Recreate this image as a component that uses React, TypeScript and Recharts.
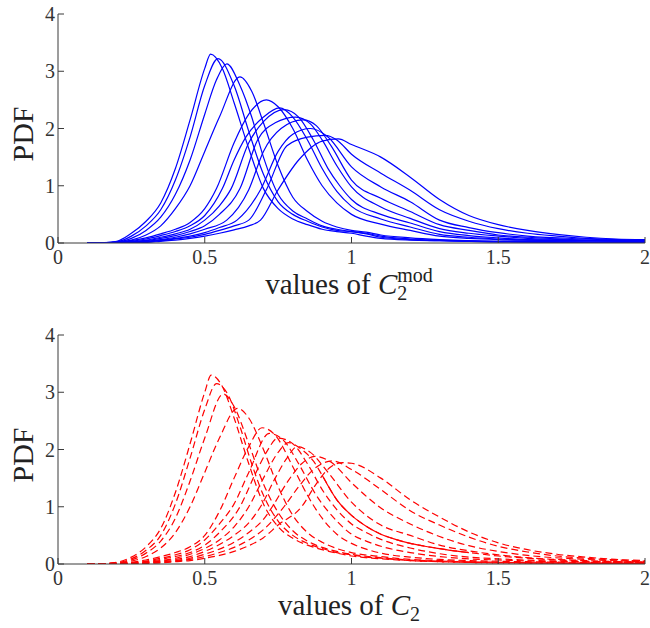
import React from 'react';
import { LineChart, Line, XAxis, YAxis } from 'recharts';

const FONT = '"Liberation Serif", "Times New Roman", serif';

const xTicks = [0, 0.5, 1, 1.5, 2];
const yTicks = [0, 1, 2, 3, 4];

type P = [number, number];

// ---------- top panel (C2^mod), blue solid ----------
const topA: P[] = [[0.1,0],[0.15,0.005],[0.2,0.03],[0.25,0.17],[0.3,0.38],[0.35,0.7],[0.4,1.3],[0.45,2.15],[0.5,3.05],[0.52,3.3],[0.56,3.05],[0.6,2.45],[0.65,1.65],[0.7,0.95],[0.75,0.6],[0.8,0.42],[0.85,0.32],[0.9,0.24],[0.95,0.2],[1.0,0.17],[1.05,0.12],[1.1,0.08],[1.2,0.05],[1.3,0.04],[1.5,0.02],[2.0,0.01]];
const topB: P[] = [[0.1,0],[0.15,0.004],[0.2,0.02],[0.25,0.12],[0.3,0.3],[0.35,0.58],[0.4,1.1],[0.45,1.85],[0.5,2.75],[0.545,3.22],[0.6,2.75],[0.65,1.95],[0.7,1.2],[0.75,0.72],[0.8,0.5],[0.85,0.38],[0.9,0.28],[0.95,0.22],[1.0,0.2],[1.05,0.16],[1.1,0.1],[1.2,0.06],[1.3,0.04],[1.5,0.02],[2.0,0.01]];
const topC: P[] = [[0.1,0],[0.2,0.015],[0.25,0.08],[0.3,0.22],[0.35,0.45],[0.4,0.85],[0.45,1.45],[0.5,2.25],[0.54,2.85],[0.575,3.13],[0.62,2.75],[0.66,2.2],[0.7,1.5],[0.75,0.85],[0.8,0.56],[0.85,0.42],[0.9,0.3],[0.95,0.24],[1.0,0.2],[1.05,0.17],[1.1,0.12],[1.2,0.07],[1.3,0.05],[1.5,0.03],[2.0,0.01]];
const topD: P[] = [[0.1,0],[0.2,0.01],[0.25,0.05],[0.3,0.14],[0.35,0.3],[0.4,0.6],[0.45,1.0],[0.5,1.6],[0.55,2.2],[0.62,2.9],[0.66,2.65],[0.7,2.1],[0.75,1.35],[0.8,0.8],[0.85,0.55],[0.9,0.38],[0.95,0.28],[1.0,0.22],[1.05,0.19],[1.1,0.14],[1.2,0.09],[1.3,0.06],[1.5,0.03],[2.0,0.01]];
const topE: P[] = [[0.1,0],[0.2,0.01],[0.25,0.04],[0.3,0.09],[0.35,0.16],[0.4,0.24],[0.45,0.36],[0.5,0.6],[0.54,0.95],[0.6,1.75],[0.65,2.25],[0.71,2.5],[0.75,2.38],[0.8,2.0],[0.85,1.45],[0.9,1.0],[0.95,0.7],[1.0,0.5],[1.1,0.33],[1.2,0.22],[1.3,0.12],[1.4,0.08],[1.5,0.06],[1.6,0.05],[1.8,0.04],[2.0,0.03]];
const topF: P[] = [[0.1,0],[0.2,0.01],[0.25,0.03],[0.3,0.07],[0.35,0.13],[0.4,0.2],[0.45,0.3],[0.5,0.48],[0.56,0.95],[0.6,1.45],[0.64,1.85],[0.7,2.2],[0.755,2.36],[0.8,2.2],[0.85,1.8],[0.9,1.3],[0.95,0.9],[1.0,0.64],[1.1,0.42],[1.2,0.28],[1.3,0.15],[1.4,0.1],[1.5,0.07],[1.6,0.05],[1.8,0.04],[2.0,0.03]];
const topG: P[] = [[0.1,0],[0.2,0.01],[0.25,0.02],[0.3,0.05],[0.35,0.1],[0.4,0.16],[0.45,0.24],[0.5,0.4],[0.55,0.65],[0.59,0.95],[0.65,1.75],[0.7,2.12],[0.77,2.33],[0.82,2.2],[0.87,1.8],[0.92,1.3],[0.96,1.0],[1.0,0.76],[1.1,0.5],[1.2,0.35],[1.3,0.2],[1.4,0.13],[1.5,0.09],[1.6,0.06],[1.8,0.04],[2.0,0.03]];
const topH: P[] = [[0.1,0],[0.2,0.005],[0.25,0.02],[0.3,0.04],[0.35,0.08],[0.4,0.13],[0.45,0.2],[0.5,0.3],[0.55,0.5],[0.62,0.95],[0.68,1.8],[0.74,2.1],[0.81,2.2],[0.86,2.08],[0.9,1.8],[0.95,1.35],[1.0,0.98],[1.1,0.63],[1.2,0.43],[1.3,0.25],[1.4,0.17],[1.5,0.12],[1.6,0.08],[1.8,0.05],[2.0,0.03]];
const topI: P[] = [[0.1,0],[0.2,0.005],[0.25,0.015],[0.3,0.03],[0.35,0.06],[0.4,0.1],[0.45,0.16],[0.5,0.24],[0.575,0.4],[0.65,0.93],[0.7,1.6],[0.76,2.0],[0.835,2.15],[0.88,2.05],[0.93,1.7],[1.0,1.1],[1.1,0.78],[1.2,0.55],[1.3,0.32],[1.4,0.22],[1.5,0.14],[1.6,0.1],[1.8,0.05],[2.0,0.03]];
const topJ: P[] = [[0.1,0],[0.25,0.01],[0.3,0.02],[0.35,0.05],[0.4,0.08],[0.45,0.12],[0.5,0.18],[0.55,0.27],[0.61,0.4],[0.69,0.93],[0.75,1.6],[0.8,1.9],[0.86,2.0],[0.92,1.85],[1.0,1.33],[1.1,0.98],[1.2,0.72],[1.3,0.4],[1.4,0.27],[1.5,0.18],[1.6,0.12],[1.8,0.07],[2.0,0.04]];
const topK: P[] = [[0.1,0],[0.25,0.01],[0.3,0.02],[0.35,0.04],[0.4,0.07],[0.45,0.1],[0.5,0.15],[0.55,0.22],[0.6,0.3],[0.65,0.4],[0.71,0.93],[0.78,1.7],[0.85,1.85],[0.91,1.88],[0.95,1.8],[1.0,1.55],[1.1,1.22],[1.2,0.92],[1.3,0.58],[1.4,0.38],[1.5,0.25],[1.6,0.17],[1.7,0.12],[1.8,0.08],[2.0,0.05]];
const topL: P[] = [[0.1,0],[0.3,0.01],[0.35,0.03],[0.4,0.05],[0.45,0.08],[0.5,0.12],[0.55,0.17],[0.6,0.23],[0.65,0.3],[0.69,0.4],[0.75,0.93],[0.82,1.45],[0.9,1.78],[0.955,1.82],[1.0,1.72],[1.1,1.5],[1.2,1.15],[1.3,0.76],[1.4,0.48],[1.5,0.32],[1.6,0.22],[1.7,0.15],[1.8,0.1],[1.9,0.07],[2.0,0.06]];

// ---------- bottom panel (C2), red dashed ----------
const botA: P[] = [[0.1,0],[0.15,0.005],[0.2,0.03],[0.25,0.12],[0.3,0.3],[0.35,0.62],[0.4,1.25],[0.45,2.1],[0.5,3.0],[0.522,3.3],[0.56,3.1],[0.6,2.55],[0.65,1.75],[0.7,1.05],[0.75,0.65],[0.8,0.45],[0.85,0.33],[0.9,0.25],[0.95,0.19],[1.0,0.14],[1.05,0.11],[1.1,0.09],[1.2,0.06],[1.3,0.04],[1.5,0.02],[2.0,0.01]];
const botB: P[] = [[0.1,0],[0.2,0.02],[0.25,0.09],[0.3,0.24],[0.35,0.5],[0.4,1.05],[0.45,1.85],[0.5,2.7],[0.54,3.15],[0.58,2.95],[0.62,2.4],[0.66,1.75],[0.7,1.2],[0.75,0.75],[0.8,0.5],[0.85,0.36],[0.9,0.27],[0.95,0.2],[1.0,0.16],[1.05,0.12],[1.1,0.1],[1.2,0.06],[1.3,0.04],[1.5,0.02],[2.0,0.01]];
const botC: P[] = [[0.1,0],[0.2,0.02],[0.25,0.07],[0.3,0.19],[0.35,0.4],[0.4,0.8],[0.45,1.45],[0.5,2.2],[0.563,2.97],[0.6,2.75],[0.65,2.1],[0.7,1.4],[0.75,0.9],[0.8,0.58],[0.85,0.4],[0.9,0.29],[0.95,0.22],[1.0,0.17],[1.1,0.11],[1.2,0.07],[1.3,0.05],[1.5,0.03],[2.0,0.01]];
const botD: P[] = [[0.1,0],[0.2,0.01],[0.25,0.05],[0.3,0.13],[0.35,0.28],[0.4,0.55],[0.45,1.0],[0.5,1.6],[0.55,2.2],[0.612,2.72],[0.65,2.55],[0.7,2.0],[0.75,1.35],[0.8,0.85],[0.85,0.55],[0.9,0.38],[0.95,0.27],[1.0,0.2],[1.1,0.13],[1.2,0.08],[1.3,0.06],[1.5,0.03],[2.0,0.01]];
const botE: P[] = [[0.1,0],[0.2,0.01],[0.25,0.03],[0.3,0.07],[0.35,0.13],[0.4,0.2],[0.45,0.3],[0.5,0.5],[0.55,0.92],[0.6,1.5],[0.65,2.05],[0.695,2.38],[0.74,2.25],[0.8,1.7],[0.85,1.2],[0.9,0.8],[0.95,0.52],[1.0,0.36],[1.05,0.26],[1.1,0.19],[1.2,0.12],[1.3,0.08],[1.4,0.06],[1.6,0.04],[2.0,0.02]];
const botF: P[] = [[0.1,0],[0.2,0.01],[0.25,0.02],[0.3,0.05],[0.35,0.1],[0.4,0.16],[0.45,0.25],[0.5,0.42],[0.55,0.7],[0.6,1.05],[0.65,1.6],[0.72,2.28],[0.77,2.15],[0.82,1.75],[0.88,1.2],[0.95,0.75],[1.0,0.52],[1.05,0.4],[1.1,0.31],[1.2,0.2],[1.3,0.13],[1.4,0.09],[1.5,0.07],[1.7,0.04],[2.0,0.03]];
const botG: P[] = [[0.1,0],[0.25,0.02],[0.3,0.04],[0.35,0.08],[0.4,0.13],[0.45,0.2],[0.5,0.33],[0.55,0.55],[0.62,1.0],[0.67,1.55],[0.71,1.95],[0.75,2.2],[0.8,2.1],[0.85,1.75],[0.9,1.3],[0.95,0.95],[1.0,0.7],[1.05,0.55],[1.1,0.43],[1.2,0.28],[1.3,0.18],[1.4,0.12],[1.5,0.09],[1.7,0.05],[2.0,0.03]];
const botH: P[] = [[0.1,0],[0.25,0.015],[0.3,0.03],[0.35,0.06],[0.4,0.1],[0.45,0.17],[0.5,0.27],[0.55,0.42],[0.6,0.65],[0.65,1.0],[0.7,1.5],[0.75,1.95],[0.785,2.12],[0.83,2.0],[0.87,1.8],[0.9,1.55],[0.95,1.12],[1.0,0.85],[1.05,0.66],[1.1,0.52],[1.15,0.43],[1.2,0.36],[1.25,0.31],[1.3,0.27],[1.35,0.23],[1.4,0.2],[1.5,0.14],[1.6,0.1],[1.8,0.05],[2.0,0.03]];
const botI: P[] = [[0.1,0],[0.25,0.01],[0.3,0.025],[0.35,0.05],[0.4,0.08],[0.45,0.13],[0.5,0.22],[0.55,0.34],[0.6,0.5],[0.65,0.72],[0.69,1.0],[0.74,1.5],[0.78,1.85],[0.815,2.05],[0.86,1.95],[0.92,1.6],[1.0,1.08],[1.05,0.85],[1.1,0.68],[1.2,0.5],[1.3,0.33],[1.4,0.23],[1.5,0.16],[1.6,0.11],[1.8,0.06],[2.0,0.03]];
const botJ: P[] = [[0.1,0],[0.25,0.01],[0.3,0.02],[0.35,0.04],[0.4,0.06],[0.45,0.1],[0.5,0.17],[0.55,0.26],[0.6,0.38],[0.65,0.55],[0.7,0.78],[0.73,1.0],[0.78,1.42],[0.83,1.75],[0.875,1.88],[0.93,1.78],[1.0,1.42],[1.1,0.98],[1.2,0.7],[1.3,0.48],[1.4,0.32],[1.5,0.22],[1.6,0.15],[1.8,0.08],[2.0,0.04]];
const botK: P[] = [[0.1,0],[0.25,0.01],[0.3,0.015],[0.35,0.03],[0.4,0.05],[0.45,0.08],[0.5,0.13],[0.55,0.2],[0.6,0.29],[0.65,0.42],[0.7,0.6],[0.77,1.0],[0.82,1.35],[0.87,1.65],[0.935,1.8],[1.0,1.65],[1.1,1.3],[1.2,0.93],[1.3,0.68],[1.4,0.47],[1.5,0.31],[1.6,0.21],[1.7,0.14],[1.8,0.1],[2.0,0.05]];
const botL: P[] = [[0.1,0],[0.3,0.01],[0.35,0.02],[0.4,0.04],[0.45,0.06],[0.5,0.1],[0.55,0.15],[0.6,0.22],[0.65,0.32],[0.7,0.46],[0.75,0.68],[0.83,1.0],[0.88,1.4],[0.93,1.7],[0.97,1.77],[1.0,1.76],[1.1,1.5],[1.2,1.12],[1.3,0.82],[1.4,0.56],[1.5,0.37],[1.6,0.25],[1.7,0.17],[1.8,0.12],[1.9,0.08],[2.0,0.06]];
// the stretch of curve H that shows as a continuous (solid) stroke
const botSolidRange = [0.9, 1.4];

const topCurves = [topA, topB, topC, topD, topE, topF, topG, topH, topI, topJ, topK, topL];
const botCurves = [botA, botB, botC, botD, botE, botF, botG, botH, botI, botJ, botK, botL];

const toPts = (c: P[]) => c.map(([x, y]) => ({ x, y }));
const botSolid = botH.filter(([x]) => x >= botSolidRange[0] && x <= botSolidRange[1]);

const AXIS = '#3a3a3a';
const tickStyle = { fontSize: 20, fill: '#333', fontFamily: FONT };

function XLabel({ sup, y }: { sup: boolean; y: number }) {
  return (
    <text x={349} y={y} textAnchor="middle" fontFamily={FONT} fontSize={29} fill="#222">
      values of <tspan fontStyle="italic">C</tspan>
      <tspan fontSize={20} dy={6}>2</tspan>
      {sup ? <tspan fontSize={20} dx={-10} dy={-18}>mod</tspan> : null}
    </text>
  );
}

function YLabel({ y }: { y: number }) {
  return (
    <text x={33} y={y} textAnchor="middle" fontFamily={FONT} fontSize={30} fill="#222" transform={`rotate(-90 33 ${y})`}>
      PDF
    </text>
  );
}

function Panel({ curves, color, dashed, sup, height, top, solid }: {
  curves: P[][]; color: string; dashed: boolean; sup: boolean; height: number; top: number; solid?: P[];
}) {
  const plotH = 229;
  const xAxisH = height - top - plotH;
  return (
    <LineChart width={650} height={height} margin={{ top, right: 5, left: 0, bottom: 0 }}>
      <XAxis
        type="number"
        dataKey="x"
        domain={[0, 2]}
        ticks={xTicks}
        allowDataOverflow
        height={xAxisH}
        stroke={AXIS}
        tickSize={-6}
        tickMargin={13}
        tick={tickStyle}
        tickFormatter={(v: number) => String(v)}
        label={{ content: () => <XLabel sup={sup} y={top + plotH + 51} /> }}
      />
      <YAxis
        type="number"
        domain={[0, 4]}
        ticks={yTicks}
        allowDataOverflow
        width={58}
        stroke={AXIS}
        tickSize={-6}
        tickMargin={9}
        tick={tickStyle}
        label={{ content: () => <YLabel y={top + 120} /> }}
      />
      {curves.map((c, i) => (
        <Line
          key={i}
          data={toPts(c)}
          dataKey="y"
          type="monotone"
          stroke={color}
          strokeWidth={1.2}
          strokeDasharray={dashed ? '7 4' : undefined}
          dot={false}
          activeDot={false}
          isAnimationActive={false}
        />
      ))}
      {solid ? (
        <Line
          key="solid"
          data={toPts(solid)}
          dataKey="y"
          type="monotone"
          stroke={color}
          strokeWidth={1.2}
          dot={false}
          activeDot={false}
          isAnimationActive={false}
        />
      ) : null}
    </LineChart>
  );
}

export default function App() {
  return (
    <div style={{ position: 'absolute', left: 0, top: 0, width: 650, height: 628, background: '#fff' }}>
      <Panel curves={topCurves} color="#0000ff" dashed={false} sup={true} height={320} top={14} />
      <Panel curves={botCurves} color="#ff0000" dashed={true} sup={false} height={308} top={15} solid={botSolid} />
    </div>
  );
}
